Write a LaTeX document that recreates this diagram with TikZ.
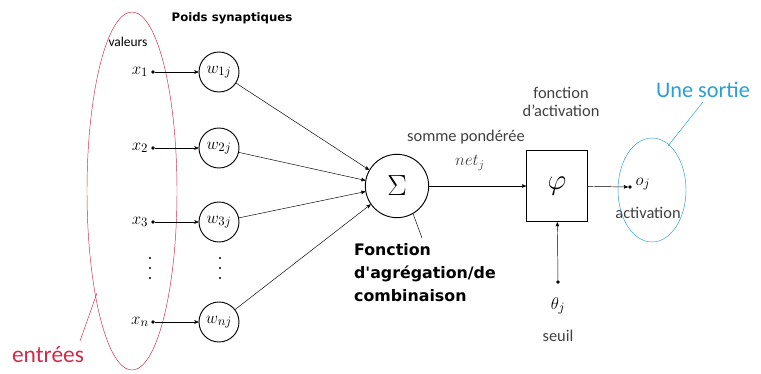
\documentclass[tikz,border=0pt]{standalone}
\usepackage{fontspec}
\setmainfont{Carlito}
\newfontfamily\grasfont{DejaVu Sans}
\usetikzlibrary{arrows}
\usetikzlibrary{calc}

\definecolor{rouge}{RGB}{214,40,70}
\definecolor{bleu}{RGB}{40,160,210}

\tikzset{
 poids/.style={draw, circle, thick, minimum size=1.2cm, inner sep=0pt, font=\fontsize{15}{15}\selectfont},
 point/.style={circle, fill=black, inner sep=1.1pt},
 pt/.style={circle, fill=black, inner sep=0.7pt},
 fleche/.style={->, >=stealth', thin},
 legende/.style={font=\fontsize{14}{16}\selectfont, text=black!75},
 gras/.style={font=\grasfont\fontsize{13.5}{19.8}\bfseries\selectfont},
 maths/.style={font=\fontsize{15}{15}\selectfont},
}

\begin{document}
\begin{tikzpicture}[x=0.03cm, y=-0.03cm]
\useasboundingbox (0,0) rectangle (761,374);
% entrees
\draw[rouge] (132,191) ellipse (45 and 179);
\node[text=rouge, font=\fontsize{20}{20}\selectfont] (entrees) at (48,355) {entrées};
\draw[rouge] (entrees.north east) ++(-8,-2) -- (97,293);
\node[font=\fontsize{11.5}{12}\selectfont] (valeurs) at (128,42) {valeurs};
\node[font=\grasfont\fontsize{10}{12}\bfseries\selectfont] (titre) at (232,18) {Poids synaptiques};
% neurones d'entree
\foreach \i/\y/\w in {1/72/1j, 2/148/2j, 3/222/3j, n/322/nj} {
 \node[maths] (x\i) at (140,\y) {$x_{\i}$};
 \node[point] (d\i) at (153,\y) {};
 \node[poids] (w\i) at (219,\y) {$w_{\w}$};
 \draw[fleche] (d\i) -- (w\i);
}
% points de suspension
\foreach \k/\y in {1/258, 2/268, 3/278} {
 \node[pt] (px\k) at (150,\y) {};
 \node[pt] (pw\k) at (220,\y) {};
}
% sommation
\node[draw, circle, thick, minimum size=1.9cm, inner sep=0pt, font=\fontsize{26}{26}\selectfont] (somme) at (397,186) {$\Sigma$};
\foreach \i/\a in {1/150, 2/170, 3/190, n/215} {
 \draw[fleche] (w\i) -- (somme.\a);
}
\node[legende] (pond) at (466,137) {somme pondérée};
\node[legende] (net) at (470,163) {$net_j$};
\node[gras, align=left, anchor=north west] (agreg) at (350,239) {Fonction\\ d'agrégation/de\\ combinaison};
\draw (somme.-60) -- (422,238);
% activation
\node[draw, thick, minimum width=1.83cm, minimum height=2.15cm, font=\fontsize{30}{30}\selectfont] (phi) at (557,186) {$\varphi$};
\draw[fleche] (somme) -- (phi);
\node[legende, align=center] (fact) at (561,102) {fonction\\d'activation};
\node[point] (dout) at (630,187) {};
\node[maths] (o) at (643,184) {$o_j$};
\draw[fleche] (phi) -- (dout);
\node[legende] (act) at (648,213) {activation};
% seuil
\node[point] (dseuil) at (558,282) {};
\draw[fleche] (dseuil) -- (phi);
\node[maths] (theta) at (558,306) {$\theta_j$};
\node[legende] (seuil) at (558,336) {seuil};
% sortie
\draw[bleu] (652,190) ellipse (34 and 52);
\node[text=bleu, font=\fontsize{19}{19}\selectfont] (sortie) at (703,90) {Une sortie};
\draw[bleu] (668,146) -- (sortie.south);
\end{tikzpicture}
\end{document}
